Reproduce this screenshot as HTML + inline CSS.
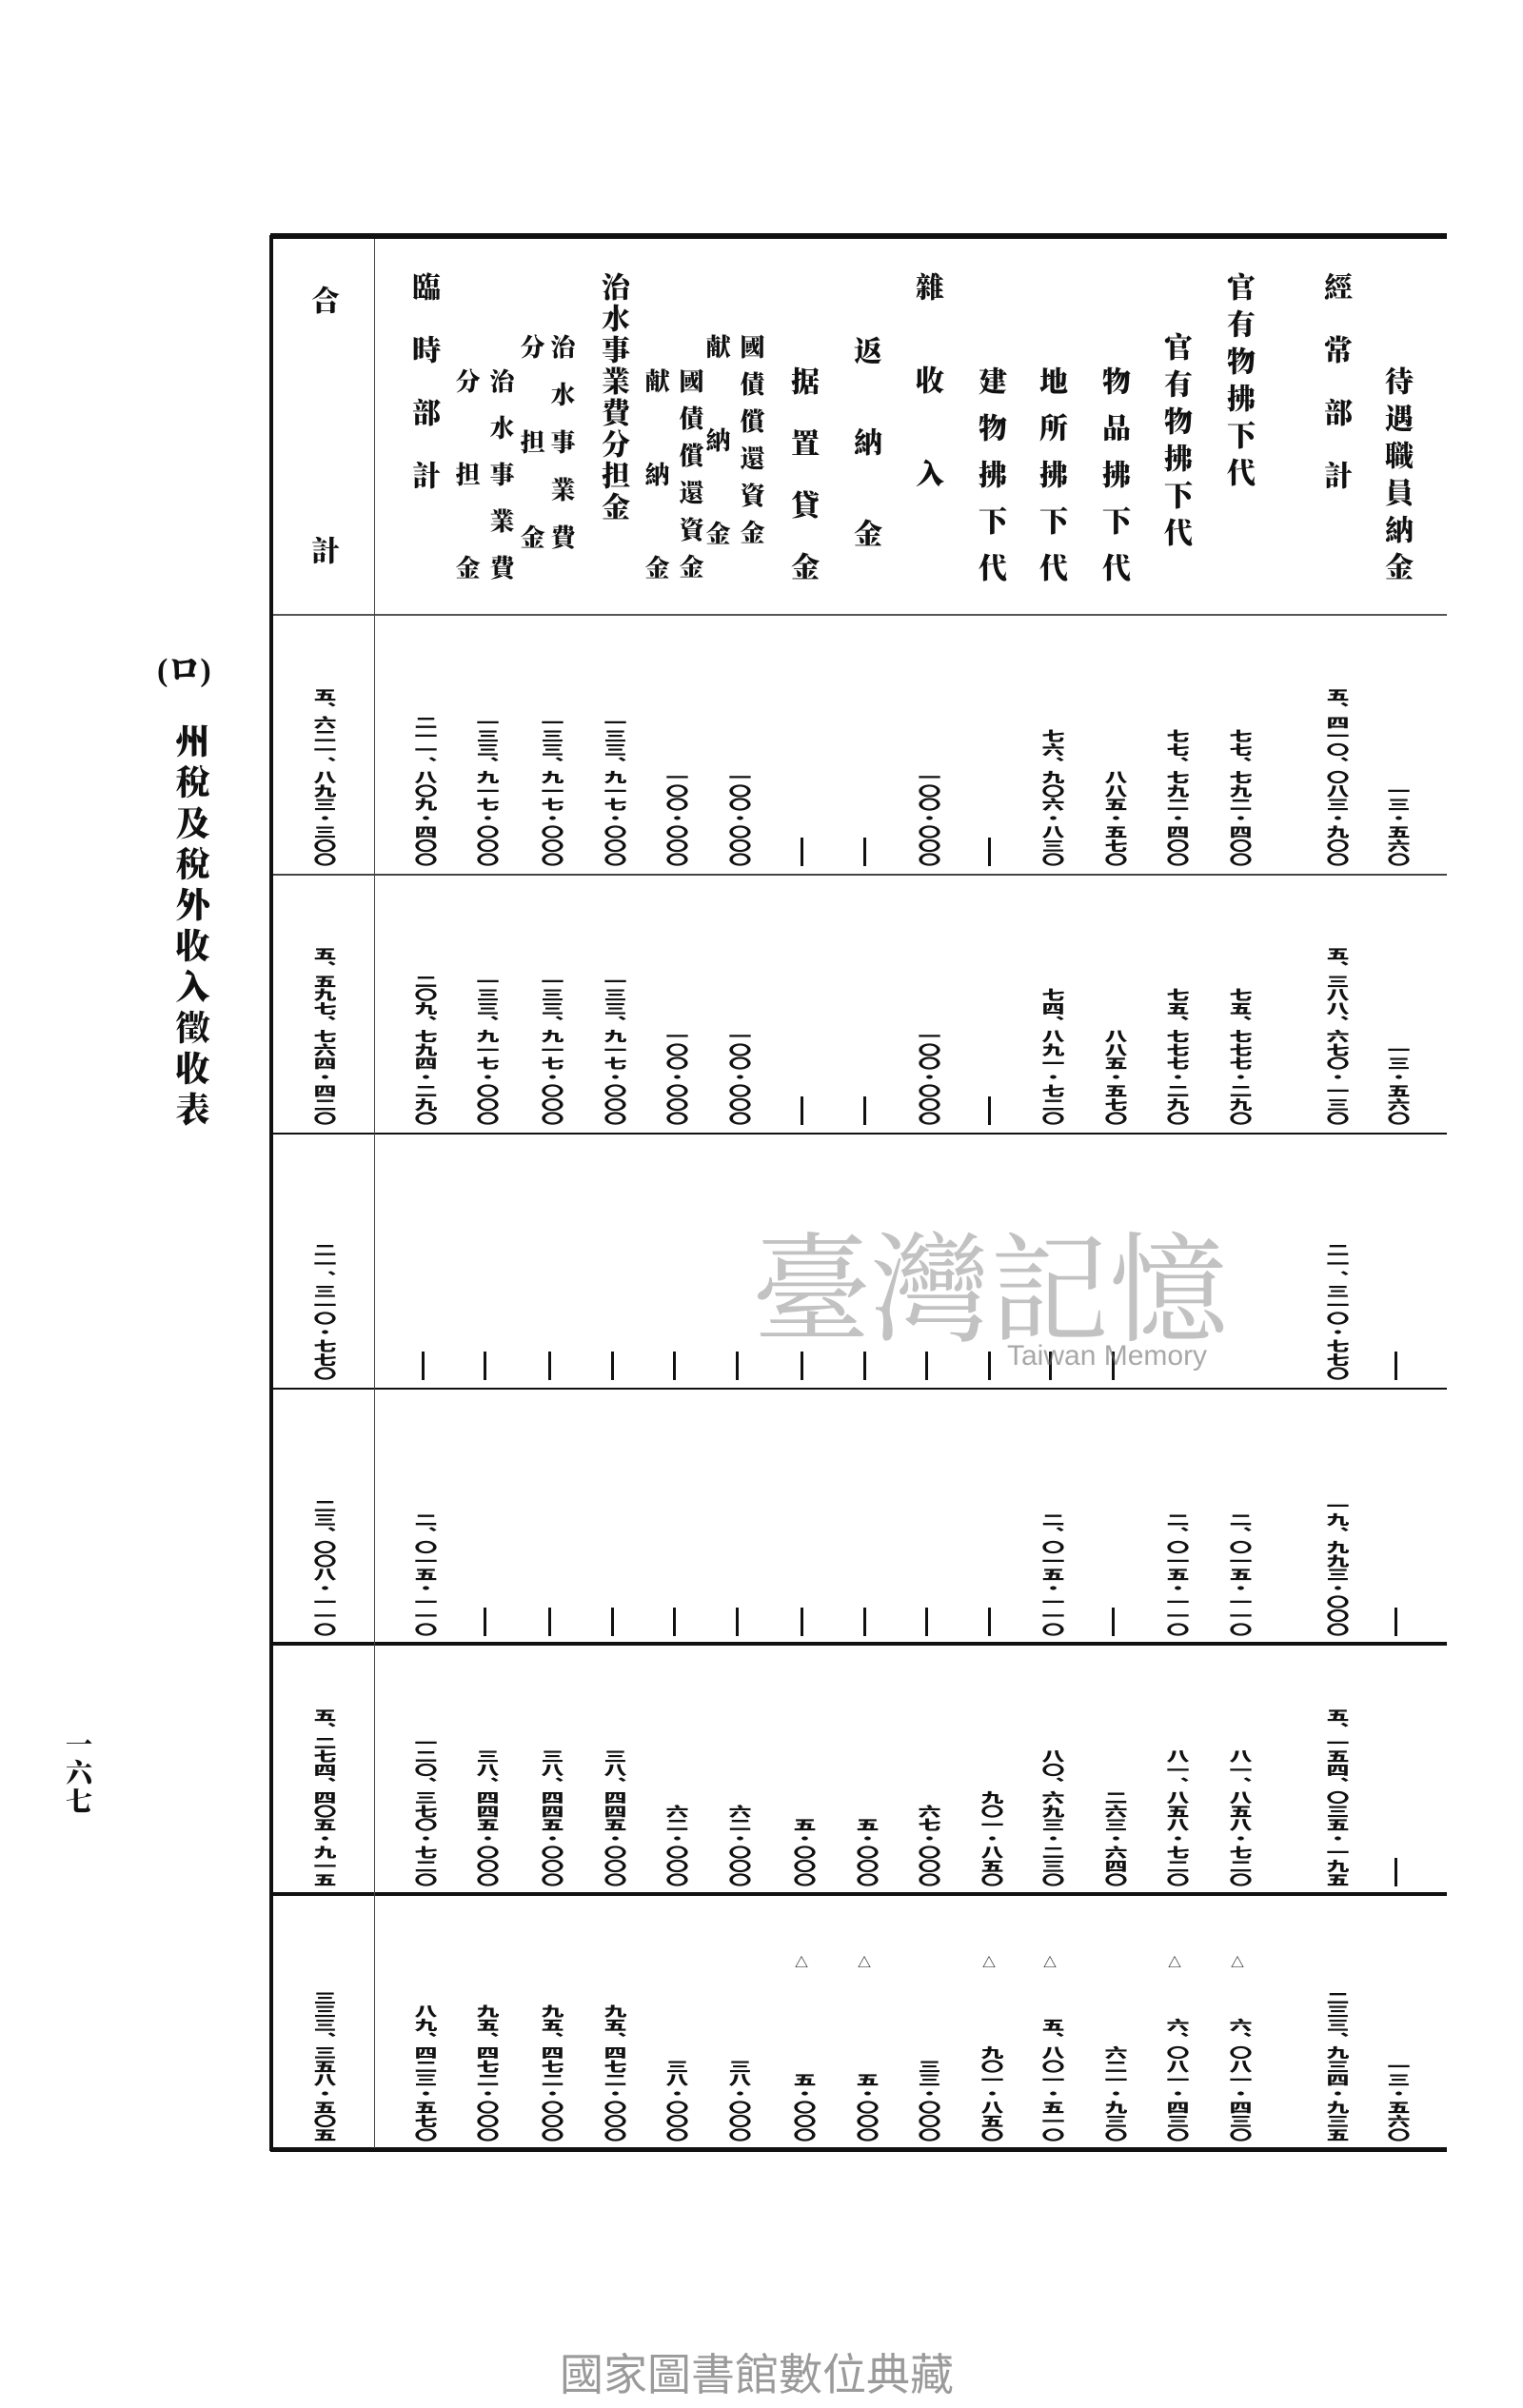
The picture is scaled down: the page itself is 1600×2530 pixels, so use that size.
<!DOCTYPE html>
<html><head><meta charset="utf-8">
<style>
html,body{margin:0;padding:0;background:#fff}
body{width:1600px;height:2530px;position:relative;overflow:hidden;font-family:"Liberation Serif","Noto Serif CJK SC","Noto Sans CJK SC",serif;color:#111}
.h{position:absolute;writing-mode:vertical-rl;font-weight:900;font-size:30px;line-height:30px;white-space:nowrap}
.s{position:absolute;writing-mode:vertical-rl;font-weight:900;font-size:26px;line-height:26px;white-space:nowrap}
.v{position:absolute;writing-mode:vertical-rl;font-family:"Liberation Sans","Noto Sans CJK SC",sans-serif;font-weight:900;font-size:24px;line-height:24px;width:24px;transform:scaleY(.6);transform-origin:bottom center;white-space:nowrap}
.d{position:absolute;width:3px;height:30px;background:#111}
.t{position:absolute;font-size:14px;line-height:14px}
.hl{position:absolute;left:284px;width:1236px;background:#111}
</style></head><body>
<div class="hl" style="top:245px;height:6px"></div>
<div class="hl" style="top:645px;height:2px;background:#555"></div>
<div class="hl" style="top:918px;height:2px;background:#444"></div>
<div class="hl" style="top:1190px;height:2px"></div>
<div class="hl" style="top:1458px;height:2px"></div>
<div class="hl" style="top:1725px;height:4px"></div>
<div class="hl" style="top:1988px;height:4px"></div>
<div class="hl" style="top:2256px;height:5px"></div>
<div style="position:absolute;left:283px;top:247px;width:4px;height:2013px;background:#111"></div>
<div style="position:absolute;left:393px;top:251px;width:1px;height:2006px;background:#444"></div>

<div class="h" style="left:323px;top:300px;letter-spacing:233px">合計</div>
<div class="h" style="left:429px;top:286px;letter-spacing:36px">臨時部計</div>
<div class="s" style="left:512px;top:387px;letter-spacing:23px">治水事業費</div>
<div class="s" style="left:476px;top:387px;letter-spacing:72px">分担金</div>
<div class="s" style="left:576px;top:351px;letter-spacing:24px">治水事業費</div>
<div class="s" style="left:544px;top:351px;letter-spacing:74px">分担金</div>
<div class="h" style="left:628px;top:286px;letter-spacing:3px">治水事業費分担金</div>
<div class="s" style="left:711px;top:387px;letter-spacing:13px">國債償還資金</div>
<div class="s" style="left:675px;top:387px;letter-spacing:72px">献納金</div>
<div class="s" style="left:775px;top:351px;letter-spacing:13px">國債償還資金</div>
<div class="s" style="left:739px;top:351px;letter-spacing:72px">献納金</div>
<div class="h" style="left:827px;top:385px;letter-spacing:35px">据置貸金</div>
<div class="h" style="left:893px;top:353px;letter-spacing:66px">返納金</div>
<div class="h" style="left:958px;top:286px;letter-spacing:68px">雜收入</div>
<div class="h" style="left:1024px;top:385px;letter-spacing:19px">建物拂下代</div>
<div class="h" style="left:1088px;top:385px;letter-spacing:19px">地所拂下代</div>
<div class="h" style="left:1154px;top:385px;letter-spacing:19px">物品拂下代</div>
<div class="h" style="left:1219px;top:349px;letter-spacing:9px">官有物拂下代</div>
<div class="h" style="left:1285px;top:286px;letter-spacing:9px">官有物拂下代</div>
<div class="h" style="left:1387px;top:286px;letter-spacing:36px">經常部計</div>
<div class="h" style="left:1451px;top:385px;letter-spacing:9px">待遇職員納金</div>

<div class="v" style="left:326px;bottom:1620px">五、六二一、八九三・三〇〇</div>
<div class="v" style="left:326px;bottom:1348px">五、五九七、七六四・四二〇</div>
<div class="v" style="left:326px;bottom:1080px">二一、三一〇・七七〇</div>
<div class="v" style="left:326px;bottom:811px">二三、〇〇八・一一〇</div>
<div class="v" style="left:326px;bottom:548px">五、二七四、四〇五・九一五</div>
<div class="v" style="left:326px;bottom:280px">三三三、三五八・五〇五</div>
<div class="v" style="left:432px;bottom:1620px">二一一、八〇九・四〇〇</div>
<div class="v" style="left:432px;bottom:1348px">二〇九、七九四・二九〇</div>
<div class="d" style="left:443px;bottom:1080px"></div>
<div class="v" style="left:432px;bottom:811px">二、〇一五・一一〇</div>
<div class="v" style="left:432px;bottom:548px">一二〇、三七〇・七二〇</div>
<div class="v" style="left:432px;bottom:280px">八九、四二三・五七〇</div>
<div class="v" style="left:497px;bottom:1620px">一三三、九一七・〇〇〇</div>
<div class="v" style="left:497px;bottom:1348px">一三三、九一七・〇〇〇</div>
<div class="d" style="left:508px;bottom:1080px"></div>
<div class="d" style="left:508px;bottom:811px"></div>
<div class="v" style="left:497px;bottom:548px">三八、四四五・〇〇〇</div>
<div class="v" style="left:497px;bottom:280px">九五、四七二・〇〇〇</div>
<div class="v" style="left:565px;bottom:1620px">一三三、九一七・〇〇〇</div>
<div class="v" style="left:565px;bottom:1348px">一三三、九一七・〇〇〇</div>
<div class="d" style="left:576px;bottom:1080px"></div>
<div class="d" style="left:576px;bottom:811px"></div>
<div class="v" style="left:565px;bottom:548px">三八、四四五・〇〇〇</div>
<div class="v" style="left:565px;bottom:280px">九五、四七二・〇〇〇</div>
<div class="v" style="left:631px;bottom:1620px">一三三、九一七・〇〇〇</div>
<div class="v" style="left:631px;bottom:1348px">一三三、九一七・〇〇〇</div>
<div class="d" style="left:642px;bottom:1080px"></div>
<div class="d" style="left:642px;bottom:811px"></div>
<div class="v" style="left:631px;bottom:548px">三八、四四五・〇〇〇</div>
<div class="v" style="left:631px;bottom:280px">九五、四七二・〇〇〇</div>
<div class="v" style="left:696px;bottom:1620px">一〇〇・〇〇〇</div>
<div class="v" style="left:696px;bottom:1348px">一〇〇・〇〇〇</div>
<div class="d" style="left:707px;bottom:1080px"></div>
<div class="d" style="left:707px;bottom:811px"></div>
<div class="v" style="left:696px;bottom:548px">六二・〇〇〇</div>
<div class="v" style="left:696px;bottom:280px">三八・〇〇〇</div>
<div class="v" style="left:762px;bottom:1620px">一〇〇・〇〇〇</div>
<div class="v" style="left:762px;bottom:1348px">一〇〇・〇〇〇</div>
<div class="d" style="left:773px;bottom:1080px"></div>
<div class="d" style="left:773px;bottom:811px"></div>
<div class="v" style="left:762px;bottom:548px">六二・〇〇〇</div>
<div class="v" style="left:762px;bottom:280px">三八・〇〇〇</div>
<div class="d" style="left:841px;bottom:1620px"></div>
<div class="d" style="left:841px;bottom:1348px"></div>
<div class="d" style="left:841px;bottom:1080px"></div>
<div class="d" style="left:841px;bottom:811px"></div>
<div class="v" style="left:830px;bottom:548px">五・〇〇〇</div>
<div class="v" style="left:830px;bottom:280px">五・〇〇〇</div>
<div class="t" style="left:835px;top:2057px">△</div>
<div class="d" style="left:907px;bottom:1620px"></div>
<div class="d" style="left:907px;bottom:1348px"></div>
<div class="d" style="left:907px;bottom:1080px"></div>
<div class="d" style="left:907px;bottom:811px"></div>
<div class="v" style="left:896px;bottom:548px">五・〇〇〇</div>
<div class="v" style="left:896px;bottom:280px">五・〇〇〇</div>
<div class="t" style="left:901px;top:2057px">△</div>
<div class="v" style="left:961px;bottom:1620px">一〇〇・〇〇〇</div>
<div class="v" style="left:961px;bottom:1348px">一〇〇・〇〇〇</div>
<div class="d" style="left:972px;bottom:1080px"></div>
<div class="d" style="left:972px;bottom:811px"></div>
<div class="v" style="left:961px;bottom:548px">六七・〇〇〇</div>
<div class="v" style="left:961px;bottom:280px">三三・〇〇〇</div>
<div class="d" style="left:1038px;bottom:1620px"></div>
<div class="d" style="left:1038px;bottom:1348px"></div>
<div class="d" style="left:1038px;bottom:1080px"></div>
<div class="d" style="left:1038px;bottom:811px"></div>
<div class="v" style="left:1027px;bottom:548px">九〇一・八五〇</div>
<div class="v" style="left:1027px;bottom:280px">九〇一・八五〇</div>
<div class="t" style="left:1032px;top:2057px">△</div>
<div class="v" style="left:1091px;bottom:1620px">七六、九〇六・八三〇</div>
<div class="v" style="left:1091px;bottom:1348px">七四、八九一・七二〇</div>
<div class="d" style="left:1102px;bottom:1080px"></div>
<div class="v" style="left:1091px;bottom:811px">二、〇一五・一一〇</div>
<div class="v" style="left:1091px;bottom:548px">八〇、六九三・二三〇</div>
<div class="v" style="left:1091px;bottom:280px">五、八〇一・五一〇</div>
<div class="t" style="left:1096px;top:2057px">△</div>
<div class="v" style="left:1157px;bottom:1620px">八八五・五七〇</div>
<div class="v" style="left:1157px;bottom:1348px">八八五・五七〇</div>
<div class="d" style="left:1168px;bottom:1080px"></div>
<div class="d" style="left:1168px;bottom:811px"></div>
<div class="v" style="left:1157px;bottom:548px">二六三・六四〇</div>
<div class="v" style="left:1157px;bottom:280px">六二一・九三〇</div>
<div class="v" style="left:1222px;bottom:1620px">七七、七九二・四〇〇</div>
<div class="v" style="left:1222px;bottom:1348px">七五、七七七・二九〇</div>
<div class="v" style="left:1222px;bottom:811px">二、〇一五・一一〇</div>
<div class="v" style="left:1222px;bottom:548px">八一、八五八・七二〇</div>
<div class="v" style="left:1222px;bottom:280px">六、〇八一・四三〇</div>
<div class="t" style="left:1227px;top:2057px">△</div>
<div class="v" style="left:1288px;bottom:1620px">七七、七九二・四〇〇</div>
<div class="v" style="left:1288px;bottom:1348px">七五、七七七・二九〇</div>
<div class="v" style="left:1288px;bottom:811px">二、〇一五・一一〇</div>
<div class="v" style="left:1288px;bottom:548px">八一、八五八・七二〇</div>
<div class="v" style="left:1288px;bottom:280px">六、〇八一・四三〇</div>
<div class="t" style="left:1293px;top:2057px">△</div>
<div class="v" style="left:1390px;bottom:1620px">五、四一〇、〇八三・九〇〇</div>
<div class="v" style="left:1390px;bottom:1348px">五、三八八、六七〇・一三〇</div>
<div class="v" style="left:1390px;bottom:1080px">二一、三一〇・七七〇</div>
<div class="v" style="left:1390px;bottom:811px">一九、九九三・〇〇〇</div>
<div class="v" style="left:1390px;bottom:548px">五、一五四、〇三五・一九五</div>
<div class="v" style="left:1390px;bottom:280px">二三三、九三四・九三五</div>
<div class="v" style="left:1454px;bottom:1620px">一三・五六〇</div>
<div class="v" style="left:1454px;bottom:1348px">一三・五六〇</div>
<div class="d" style="left:1465px;bottom:1080px"></div>
<div class="d" style="left:1465px;bottom:811px"></div>
<div class="d" style="left:1465px;bottom:548px"></div>
<div class="v" style="left:1454px;bottom:280px">一三・五六〇</div>

<div style="position:absolute;left:165px;top:685px;font-size:34px;font-weight:900;line-height:40px">(ロ)</div>
<div class="h" style="left:182px;top:760px;font-size:36px;line-height:36px;letter-spacing:7px">州稅及稅外收入徵收表</div>
<div class="h" style="left:66px;top:1818px;font-size:28px;line-height:28px;letter-spacing:2px">一六七</div>

<div style="position:absolute;left:790px;top:1280px;font-size:125px;line-height:130px;color:rgba(120,120,120,.45);font-family:'Noto Serif CJK SC',serif;white-space:nowrap">臺灣記憶</div>
<div style="position:absolute;left:1058px;top:1408px;font-size:30px;line-height:34px;color:rgba(110,110,110,.6);font-family:'Liberation Sans',sans-serif">Taiwan Memory</div>

<div style="position:absolute;left:575px;top:2470px;width:440px;text-align:center;font-size:46px;line-height:50px;color:#9a9a9a;font-family:'Liberation Sans','Noto Sans CJK TC',sans-serif;white-space:nowrap">國家圖書館數位典藏</div>
</body></html>
